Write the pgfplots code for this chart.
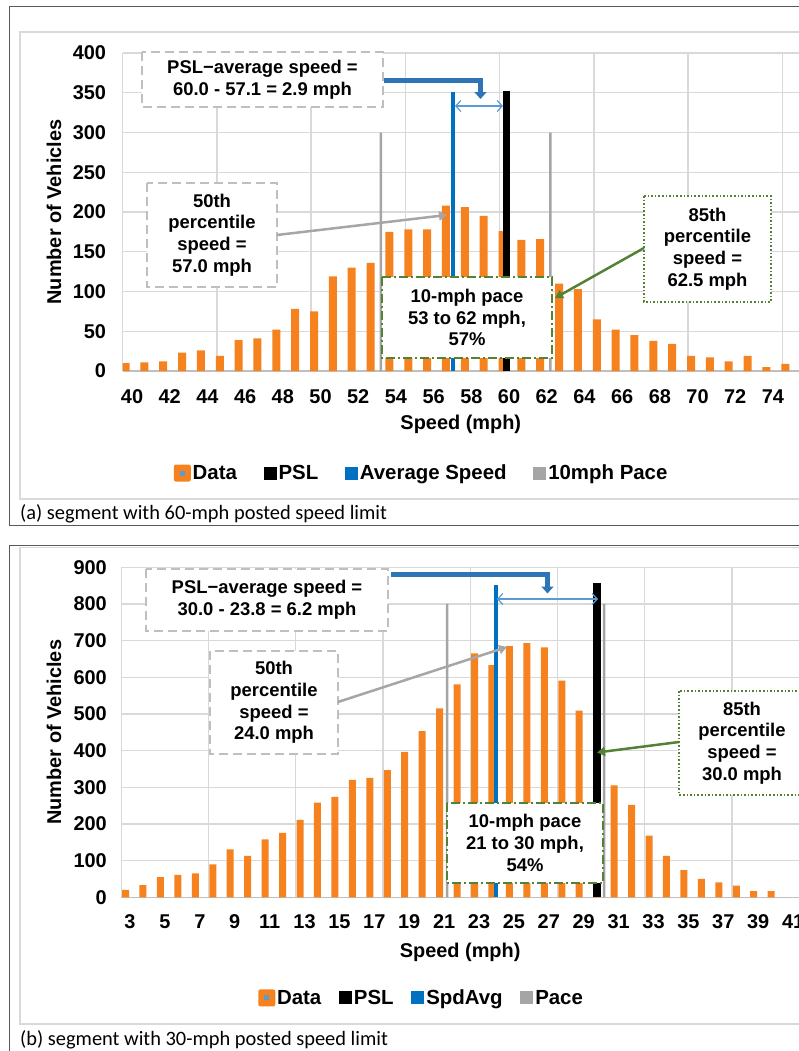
\documentclass[border=0pt]{standalone}
\usepackage{fontspec}
\setmainfont{Liberation Sans}
\newfontfamily\capfont{Carlito}
\usepackage{pgfplots}
\pgfplotsset{compat=1.18}
\usetikzlibrary{arrows.meta}
\definecolor{barorange}{HTML}{F5821F}
\definecolor{avgblue}{HTML}{0070C0}
\definecolor{pacegray}{HTML}{A5A5A5}
\definecolor{gridgray}{HTML}{D9D9D9}
\definecolor{boxgray}{HTML}{BFBFBF}
\definecolor{dkgreen}{HTML}{548235}
\definecolor{arrowblue}{HTML}{2E75B6}
\definecolor{ltblue}{HTML}{5B9BD5}
\definecolor{framegray}{HTML}{595959}
\definecolor{conngray}{HTML}{A6A6A6}
\newcommand\tickfont{\bfseries\fontsize{20}{22}\selectfont}
\newcommand\legfont{\bfseries\fontsize{20.5}{22}\selectfont}
\newcommand\boxfont{\bfseries\fontsize{18.5}{21.7}\selectfont}
\pgfplotsset{
  speedaxis/.style={
    scale only axis,
    anchor=south west,
    ymin=0,
    axis x line=bottom, axis y line=left,
    x axis line style={-, draw=boxgray, line width=1.3bp},
    y axis line style={draw=none},
    major tick length=0pt,
    tick style={draw=none},
    ymajorgrids,
    grid style={draw=gridgray, line width=1.3bp},
    extra x tick labels={},
    extra x tick style={grid=major},
    /pgf/number format/assume math mode=true,
    ticklabel style={font=\tickfont},
    label style={font=\tickfont},
    legend columns=4,
    legend style={draw=none, fill=none, font=\legfont, nodes={inner sep=1.8bp}},
  },
  sqimg/.style={legend image code/.code={\fill[#1] (0bp,-6.5bp) rectangle (13bp,6.5bp);}},
  dataimg/.style={legend image code/.code={\fill[barorange, rounded corners=2bp] (-2bp,-8.5bp) rectangle (15bp,8.5bp); \fill[ltblue] (4bp,-2.5bp) rectangle (9bp,2.5bp);}},
}
\begin{document}
\begin{tikzpicture}
\useasboundingbox (0,0) rectangle (799bp,-1051bp);
\begin{scope}[x=1bp,y=-1bp]
\draw[framegray, line width=1.3bp] (820,6.5) -- (9.5,6.5) -- (9.5,525.7) -- (820,525.7);
\draw[gridgray, line width=1.3bp] (820,32) -- (20,32) -- (20,499) -- (820,499);
\draw[framegray, line width=1.3bp] (820,545.5) -- (9.5,545.5) -- (9.5,1060);
\draw[gridgray, line width=1.3bp] (820,547.5) -- (20,547.5) -- (20,1024) -- (820,1024);
\node[anchor=base west, font=\capfont\fontsize{20.5}{24}\selectfont, inner sep=0] at (20,519) {(a) segment with 60-mph posted speed limit};
\node[anchor=base west, font=\capfont\fontsize{20.5}{24}\selectfont, inner sep=0] at (20,1045) {(b) segment with 30-mph posted speed limit};
\end{scope}

% ---------- panel (a) ----------
\begin{axis}[speedaxis,
  at={(122.6bp,-371bp)}, width=676.4bp, height=318bp,
  xmin=39.5, xmax=75.383, ymax=400,
  xtick={40,42,...,74}, ytick={0,50,...,400},
  extra x ticks={39.5,44.5,...,74.5},
  xticklabel style={yshift=-15bp},
  yticklabel style={xshift=-13bp},
  xlabel={Speed (mph)}, ylabel={Number of Vehicles},
  xlabel style={at={(axis description cs:0.5,0)}, anchor=center, yshift=-53bp},
  ylabel style={at={(axis description cs:-0.1014,0.5)}, anchor=center},
  legend style={at={(axis description cs:0.442,-0.321)}, anchor=center,
    /tikz/every even column/.append style={column sep=25bp}},
]
\addplot[ybar, bar width=8bp, bar shift=-6.5bp, fill=barorange, draw=none, dataimg] coordinates {
(40,10) (41,11) (42,12) (43,23) (44,26) (45,19) (46,39) (47,41) (48,52) (49,78)
(50,75) (51,119) (52,130) (53,136) (54,175) (55,178) (56,178) (57,208) (58,206) (59,195)
(60,176) (61,165) (62,166) (63,110) (64,103) (65,65) (66,52) (67,45) (68,38) (69,34)
(70,19) (71,17) (72,12) (73,19) (74,5) (75,9)};
\addlegendentry{Data}
\addplot[ybar, bar width=7bp, bar shift=-3bp, fill=black, draw=none, sqimg=black] coordinates {(60,352)};
\addlegendentry{PSL}
\addplot[ybar, bar width=4bp, bar shift=0.5bp, fill=avgblue, draw=none, sqimg=avgblue] coordinates {(57,351)};
\addlegendentry{Average Speed}
\addplot[ybar, bar width=2.5bp, bar shift=3.7bp, fill=pacegray, draw=none, sqimg=pacegray] coordinates {(53,300) (62,300)};
\addlegendentry{10mph Pace}
\end{axis}

% ---------- panel (b) ----------
\begin{axis}[speedaxis,
  at={(121.3bp,-897.3bp)}, width=677.7bp, height=330bp,
  xmin=2.5, xmax=41.337, ymax=900,
  xtick={3,5,...,41}, ytick={0,100,...,900},
  extra x ticks={2.5,7.5,...,37.5},
  xticklabel style={yshift=-14bp},
  yticklabel style={xshift=-11bp},
  xlabel={Speed (mph)}, ylabel={Number of Vehicles},
  xlabel style={at={(axis description cs:0.5,0)}, anchor=center, yshift=-55bp},
  ylabel style={at={(axis description cs:-0.0993,0.5)}, anchor=center},
  legend style={at={(axis description cs:0.443,-0.305)}, anchor=center,
    /tikz/every even column/.append style={column sep=16bp}},
]
\addplot[ybar, bar width=7bp, bar shift=-4.5bp, fill=barorange, draw=none, dataimg] coordinates {
(3,20) (4,33) (5,55) (6,61) (7,65) (8,90) (9,131) (10,113) (11,158) (12,176)
(13,211) (14,258) (15,274) (16,320) (17,326) (18,347) (19,397) (20,453) (21,515) (22,581)
(23,665) (24,633) (25,685) (26,693) (27,682) (28,591) (29,509) (30,390) (31,305) (32,252)
(33,168) (34,113) (35,74) (36,50) (37,41) (38,32) (39,17) (40,17)};
\addlegendentry{Data}
\addplot[ybar, bar width=8bp, bar shift=-3.9bp, fill=black, draw=none, sqimg=black] coordinates {(30,856)};
\addlegendentry{PSL}
\addplot[ybar, bar width=4bp, bar shift=0bp, fill=avgblue, draw=none, sqimg=avgblue] coordinates {(24,853)};
\addlegendentry{SpdAvg}
\addplot[ybar, bar width=2.5bp, bar shift=3bp, fill=pacegray, draw=none, sqimg=pacegray] coordinates {(21,800) (30,800)};
\addlegendentry{Pace}
\end{axis}

% ---------- annotations ----------
\begin{scope}[x=1bp,y=-1bp]
% panel (a)
\draw[boxgray, line width=1.8bp, dash pattern=on 9bp off 5bp, fill=white] (142,52) rectangle (383,107);
\node[align=center, font=\boxfont] at (262.5,79.5) {PSL−average speed =\\60.0 - 57.1 = 2.9 mph};
\draw[arrowblue, line width=5bp, -{Triangle[width=12bp,length=7bp]}] (384,80.5) -- (480.5,80.5) -- (480.5,99);
\draw[ltblue, line width=1.2bp, {Straight Barb[length=5bp,width=11bp]}-{Straight Barb[length=5bp,width=11bp]}] (455,106) -- (503,106);
\draw[boxgray, line width=1.8bp, dash pattern=on 9bp off 5bp, fill=white] (147,183) rectangle (277,287);
\node[align=center, font=\boxfont] at (212,235) {50th\\percentile\\speed =\\57.0 mph};
\draw[conngray, line width=2.5bp, -{Triangle[width=9bp,length=8bp]}] (277,235) -- (447,215);
\draw[dkgreen, line width=2bp, dash pattern=on 9bp off 3bp on 2bp off 3bp, fill=white] (382,277) rectangle (552,358);
\node[align=center, font=\boxfont] at (467,317.5) {10-mph pace\\53 to 62 mph,\\57\%};
\draw[dkgreen, line width=1.8bp, dash pattern=on 1.6bp off 2bp, fill=white] (644,196) rectangle (771,302);
\node[align=center, font=\boxfont] at (707.5,249) {85th\\percentile\\speed =\\62.5 mph};
\draw[dkgreen, line width=2.5bp, -{Triangle[width=9bp,length=8bp]}] (644,248) -- (555,298);
% panel (b)
\draw[boxgray, line width=1.8bp, dash pattern=on 9bp off 5bp, fill=white] (146,569) rectangle (388,631);
\node[align=center, font=\boxfont] at (267,600) {PSL−average speed =\\30.0 - 23.8 = 6.2 mph};
\draw[arrowblue, line width=5bp, -{Triangle[width=12bp,length=7bp]}] (391,574) -- (547.5,574) -- (547.5,593.5);
\draw[ltblue, line width=1.2bp, {Straight Barb[length=5bp,width=11bp]}-{Straight Barb[length=5bp,width=11bp]}] (497,599) -- (598,599);
\draw[boxgray, line width=1.8bp, dash pattern=on 9bp off 5bp, fill=white] (210,651) rectangle (338,754);
\node[align=center, font=\boxfont] at (274,702.5) {50th\\percentile\\speed =\\24.0 mph};
\draw[conngray, line width=2.5bp, -{Triangle[width=9bp,length=8bp]}] (338,702) -- (507,647);
\draw[dkgreen, line width=2bp, dash pattern=on 9bp off 3bp on 2bp off 3bp, fill=white] (447,803) rectangle (603,883);
\node[align=center, font=\boxfont] at (525,843) {10-mph pace\\21 to 30 mph,\\54\%};
\draw[dkgreen, line width=1.8bp, dash pattern=on 1.6bp off 2bp, fill=white] (679,691) rectangle (805,795);
\node[align=center, font=\boxfont] at (742,743) {85th\\percentile\\speed =\\30.0 mph};
\draw[dkgreen, line width=2.5bp, -{Triangle[width=9bp,length=8bp]}] (679,742) -- (597,752.5);
\end{scope}
\end{tikzpicture}
\end{document}
